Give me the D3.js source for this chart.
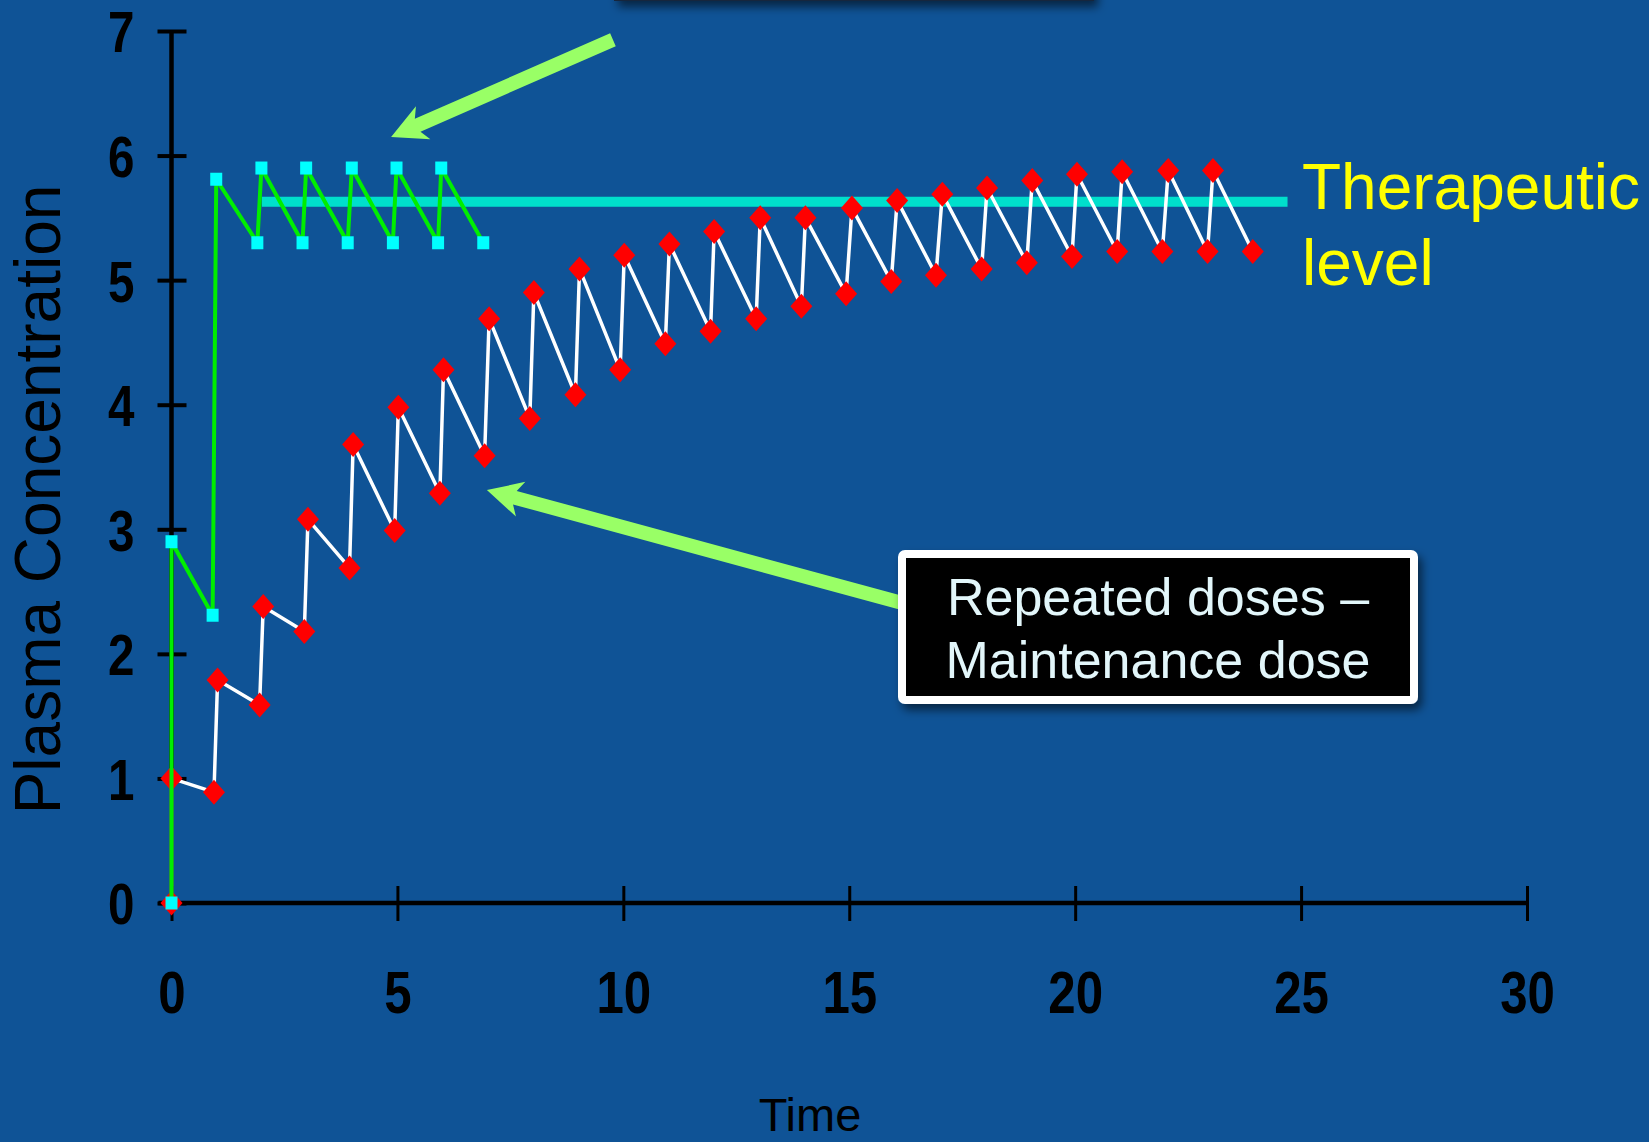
<!DOCTYPE html>
<html>
<head>
<meta charset="utf-8">
<script src="https://cdn.jsdelivr.net/npm/d3@7/dist/d3.min.js"></script>
<style>
  html, body { margin: 0; padding: 0; background: #0F5396; overflow: hidden; }
  svg { display: block; }
</style>
</head>
<body>
<svg id="chart" width="1649" height="1142"></svg>
<script>
// ---------------- data ----------------
const timeTicks = [0, 5, 10, 15, 20, 25, 30];
const concTicks = [0, 1, 2, 3, 4, 5, 6, 7];

// Loading dose then maintenance (cyan squares, green line)
const loadingTime = [0, 0, 0.91, 0.99, 1.9, 1.99, 2.9, 2.98, 3.9, 3.99, 4.9, 4.98, 5.9, 5.97, 6.9];
const loadingConc = [0, 2.9, 2.31, 5.81, 5.3, 5.9, 5.3, 5.9, 5.3, 5.9, 5.3, 5.9, 5.3, 5.9, 5.3];

// Repeated maintenance doses only (red diamonds, white line)
const maintTime = [0, 0, 0.94, 1.02, 1.95, 2.03, 2.94, 3.02, 3.94, 4.02, 4.94, 5.02, 5.94, 6.02,
  6.93, 7.03, 7.93, 8.02, 8.94, 9.03, 9.93, 10.02, 10.93, 11.02, 11.93, 12.01, 12.94, 13.03,
  13.94, 14.03, 14.93, 15.06, 15.93, 16.06, 16.92, 17.06, 17.93, 18.05, 18.93, 19.05, 19.93,
  20.04, 20.93, 21.04, 21.93, 22.06, 22.93, 23.05, 23.93];
const maintConc = [0, 1.0, 0.89, 1.79, 1.59, 2.38, 2.18, 3.08, 2.69, 3.68, 2.99, 3.98, 3.29, 4.28,
  3.59, 4.69, 3.89, 4.9, 4.08, 5.09, 4.28, 5.2, 4.49, 5.29, 4.59, 5.39, 4.69, 5.5,
  4.79, 5.5, 4.89, 5.58, 4.99, 5.64, 5.04, 5.69, 5.09, 5.74, 5.14, 5.8, 5.19,
  5.85, 5.23, 5.87, 5.23, 5.88, 5.23, 5.88, 5.23];

const therapeuticLevel = 5.63;
const therapeuticSpan = [2.0, 24.7];

const xTitle = "Time";
const yTitle = "Plasma Concentration";
const therapeuticLabel = ["Therapeutic", "level"];
const boxLabel = ["Repeated doses \u2013", "Maintenance dose"];

// annotation arrows, in data units: [fromTime, fromConc, toTime, toConc]
const arrowLoading = [9.77, 6.93, 4.86, 6.15];
const arrowMaint = [16.15, 2.41, 6.98, 3.315];

// ---------------- layout ----------------
const svg = d3.select("#chart");
const W = 1649, H = 1142;
const x = d3.scaleLinear().domain([0, 30]).range([171.5, 1527]);
const y = d3.scaleLinear().domain([0, 7]).range([903, 31]);

const sans = "'Liberation Sans',Arial,Helvetica,sans-serif";
const squeeze = 0.82; // Arial Narrow is ~82% the width of Arial

svg.append("rect").attr("width", W).attr("height", H).attr("fill", "#0F5396");

const defs = svg.append("defs");
const f = defs.append("filter").attr("id", "shadow").attr("x", "-10%").attr("y", "-10%").attr("width", "130%").attr("height", "140%");
f.append("feDropShadow").attr("dx", 4).attr("dy", 6).attr("stdDeviation", 5)
  .attr("flood-color", "#000").attr("flood-opacity", 0.55);

// cut-off box at the very top
svg.append("rect").attr("x", 614).attr("y", -120).attr("width", 480).attr("height", 121)
  .attr("fill", "#14263c").attr("filter", "url(#shadow)");

// ---------------- axes ----------------
const yAxis = d3.axisLeft(y).tickValues(concTicks).tickFormat(d3.format("d")).tickSizeOuter(0);
const gy = svg.append("g").attr("transform", `translate(${x(0)},0)`).call(yAxis);
gy.select(".domain").attr("stroke", "#000").attr("stroke-width", 4.5)
  .attr("d", `M0,${y(7)}V${y(0)}`);
gy.selectAll(".tick line").attr("x1", -14).attr("x2", 15).attr("stroke", "#000").attr("stroke-width", 4);
gy.selectAll(".tick text").attr("x", -37 / squeeze).attr("dy", "0.36em")
  .attr("transform", `scale(${squeeze},1)`)
  .attr("fill", "#000").style("font-family", sans).style("font-weight", "bold").style("font-size", "58px");

const xAxis = d3.axisBottom(x).tickValues(timeTicks).tickFormat(d3.format("d")).tickSizeOuter(0);
const gx = svg.append("g").attr("transform", `translate(0,${y(0)})`).call(xAxis);
gx.select(".domain").attr("stroke", "#000").attr("stroke-width", 4.5)
  .attr("d", `M${x(0) - 13},0H${x(30)}`);
gx.selectAll(".tick line").attr("y1", -17).attr("y2", 18).attr("stroke", "#000").attr("stroke-width", 3);
gx.selectAll(".tick text").attr("y", 110).attr("dy", 0)
  .attr("transform", `scale(${squeeze},1)`)
  .attr("fill", "#000").style("font-family", sans).style("font-weight", "bold").style("font-size", "60px");

// axis titles
svg.append("text").attr("transform", `translate(60,${499.5}) rotate(-90)`)
  .attr("text-anchor", "middle").attr("fill", "#000")
  .style("font-family", sans).style("font-size", "64px").text(yTitle);
svg.append("text").attr("x", 810).attr("y", 1131).attr("text-anchor", "middle").attr("fill", "#000")
  .style("font-family", sans).style("font-size", "47px").text(xTitle);

// ---------------- therapeutic level ----------------
svg.append("line")
  .attr("x1", x(therapeuticSpan[0])).attr("x2", x(therapeuticSpan[1]))
  .attr("y1", y(therapeuticLevel)).attr("y2", y(therapeuticLevel))
  .attr("stroke", "#00DFCC").attr("stroke-width", 10);

const tl = svg.append("text").attr("fill", "#FFFF00").style("font-family", sans).style("font-size", "64px");
tl.append("tspan").attr("x", 1302).attr("y", 208.5).text(therapeuticLabel[0]);
tl.append("tspan").attr("x", 1302).attr("y", 285).text(therapeuticLabel[1]);

// ---------------- series ----------------
const line = d3.line().x(d => x(d[0])).y(d => y(d[1]));

const maint = maintTime.map((t, i) => [t, maintConc[i]]);
const loading = loadingTime.map((t, i) => [t, loadingConc[i]]);

svg.append("path").datum(maint).attr("d", line)
  .attr("fill", "none").attr("stroke", "#FFFFFF").attr("stroke-width", 3.5).attr("stroke-linejoin", "round");
svg.append("g").selectAll("path").data(maint).join("path")
  .attr("transform", d => `translate(${x(d[0])},${y(d[1])})`)
  .attr("d", "M0,-12.5L11,0L0,12.5L-11,0Z").attr("fill", "#FF0000");

svg.append("path").datum(loading).attr("d", line)
  .attr("fill", "none").attr("stroke", "#00EE00").attr("stroke-width", 4).attr("stroke-linejoin", "round");
svg.append("g").selectAll("rect").data(loading).join("rect")
  .attr("x", d => x(d[0]) - 6).attr("y", d => y(d[1]) - 6.5)
  .attr("width", 12).attr("height", 13).attr("fill", "#00FFFF");

// ---------------- arrows ----------------
function arrow(a) {
  const x0 = x(a[0]), y0 = y(a[1]), x1 = x(a[2]), y1 = y(a[3]);
  const len = Math.hypot(x1 - x0, y1 - y0);
  const ux = (x1 - x0) / len, uy = (y1 - y0) / len;
  const px = -uy, py = ux;
  const headL = 35, headW = 18, shaftW = 7;
  const bx = x1 - ux * headL, by = y1 - uy * headL;
  const pts = [
    [x0 + px * shaftW, y0 + py * shaftW],
    [bx + ux * 6 + px * shaftW, by + uy * 6 + py * shaftW],
    [bx + px * headW, by + py * headW],
    [x1, y1],
    [bx - px * headW, by - py * headW],
    [bx + ux * 6 - px * shaftW, by + uy * 6 - py * shaftW],
    [x0 - px * shaftW, y0 - py * shaftW]
  ];
  svg.append("path").attr("d", "M" + pts.map(p => p.join(",")).join("L") + "Z").attr("fill", "#99FF66");
}
arrow(arrowLoading);
arrow(arrowMaint);

// ---------------- annotation box ----------------
const box = svg.append("g");
box.append("rect").attr("x", 902).attr("y", 554).attr("width", 512).attr("height", 146)
  .attr("rx", 3).attr("fill", "#000").attr("stroke", "#FFFFFF").attr("stroke-width", 8)
  .attr("filter", "url(#shadow)");
const bt = box.append("text").attr("text-anchor", "middle").attr("fill", "#E2F6FA")
  .style("font-family", sans).style("font-size", "52px");
bt.append("tspan").attr("x", 1158).attr("y", 615).text(boxLabel[0]);
bt.append("tspan").attr("x", 1158).attr("y", 678).text(boxLabel[1]);
</script>
</body>
</html>
